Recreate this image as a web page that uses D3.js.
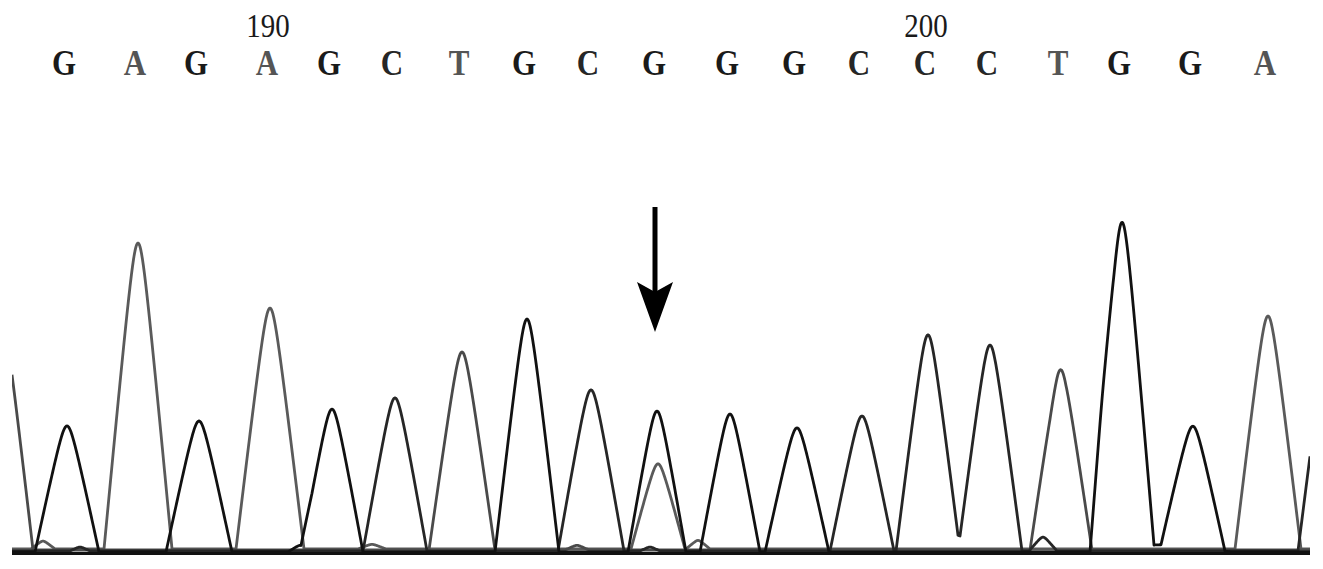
<!DOCTYPE html>
<html>
<head>
<meta charset="utf-8">
<script src="https://cdn.jsdelivr.net/npm/d3@7"></script>
<style>
  html, body { margin: 0; padding: 0; background: #fff; }
  svg { display: block; }
</style>
</head>
<body>
<svg id="chart" width="1323" height="569"></svg>
<script>
// ---------------- DATA ----------------
// base calls, in order
const bases = ["G","A","G","A","G","C","T","G","C","G","G","G","C","C","C","T","G","G","A"];
// number of the first base shown (base index 3 is labelled 190)
const firstBaseNumber = 187;
// position labels shown above the sequence
const tickLabels = [190, 200];
// scan position of each called peak
const peakPos = [55,126,187,258,320,383,450,515,579,645,718,785,850,916,978,1049,1110,1181,1256];
// signal height of each called peak
const peakHeight = [382,927,397,730,433,464,600,706,488,427,418,376,409,655,624,539,988,367,706];
// half width of each called peak (scan units)
const peakHalfWidth = [32,34,33,34,31,32,33,32,33,29,30,32,32,32,32,31,32,32,33];
// extra (uncalled) peaks: channel, scan position, height, half width
const extraChannel = ["T","A","C"];
const extraPos     = [-10, 646, 1317];
const extraHeight  = [690, 258, 640];
const extraHalf    = [31, 27, 31];
// small baseline bumps: channel, scan position, height, half width
const noiseChannel = ["A","C","G","T","C","A","C","T","G","G","A"];
const noisePos     = [31, 68, 288, 565, 638, 686, 1031, 1046, 1090, 1150, 360];
const noiseHeight  = [24, 12, 20, 14, 12, 26, 42, 10, 30, 22, 14];
const noiseHalf    = [12, 10, 12, 12, 10, 12, 14, 8, 12, 70, 14];
// which peak the arrow points at
const arrowIndex = 9;

// ---------------- SETUP ----------------
const traceColor = {A: "#5a5a5a", C: "#262626", G: "#111111", T: "#4a4a4a"};
const letterColor = {A: "#555555", C: "#262626", G: "#1a1a1a", T: "#555555"};
const baseOffset = {A: -2, C: 0, G: 1, T: -1};

const svg = d3.select("#chart");
const scanMax = 1298;
const x = d3.scaleLinear().domain([0, scanMax]).range([12, 1310]);
const y = d3.scaleLinear().domain([0, 1000]).range([551, 221]);

// peak shape: straight sides with a rounded apex
const a = 0.17;
const g1 = Math.sqrt(1 + a * a) - a;
function shape(t) {
  t = Math.abs(t);
  if (t >= 1) return 0;
  return 1 - (Math.sqrt(t * t + a * a) - a) / g1;
}

// gather every peak by channel
const peaks = [];
bases.forEach((b, i) => peaks.push({ch: b, pos: peakPos[i], h: peakHeight[i], w: peakHalfWidth[i]}));
extraChannel.forEach((c, i) => peaks.push({ch: c, pos: extraPos[i], h: extraHeight[i], w: extraHalf[i]}));
noiseChannel.forEach((c, i) => peaks.push({ch: c, pos: noisePos[i], h: noiseHeight[i], w: noiseHalf[i]}));

const scans = d3.range(0, scanMax + 0.5, 0.5);
const line = d3.line()
  .x(d => x(d[0]))
  .y(d => y(d[1]));

// clip to plot area
svg.append("defs").append("clipPath").attr("id", "plot")
  .append("rect").attr("x", 12).attr("y", 150).attr("width", 1298).attr("height", 410);

const traces = svg.append("g").attr("clip-path", "url(#plot)");

// draw order: lighter channels first, dark on top
["A","T","C","G"].forEach(ch => {
  const ps = peaks.filter(p => p.ch === ch);
  const pts = scans.map(s => {
    let v = 0;
    ps.forEach(p => { v += p.h * shape((s - p.pos) / p.w); });
    return [s, v];
  });
  traces.append("path")
    .attr("d", line(pts))
    .attr("fill", "none")
    .attr("stroke", traceColor[ch])
    .attr("stroke-width", 2.8)
    .attr("stroke-linejoin", "round")
    .attr("transform", `translate(0,${baseOffset[ch]})`);
});

// baseline
svg.append("line")
  .attr("x1", x(0)).attr("x2", x(scanMax))
  .attr("y1", y(0) + 2.5).attr("y2", y(0) + 2.5)
  .attr("stroke", "#111").attr("stroke-width", 3);

// base letters
svg.append("g").selectAll("text")
  .data(bases)
  .join("text")
  .attr("transform", (d, i) => `translate(${x(peakPos[i]) - 3},75) scale(1,1.15)`)
  .attr("text-anchor", "middle")
  .attr("font-family", "'Liberation Serif', 'Times New Roman', serif")
  .attr("font-weight", "bold")
  .attr("font-size", 31)
  .attr("fill", d => letterColor[d])
  .text(d => d);

// position numbers
svg.append("g").selectAll("text")
  .data(tickLabels)
  .join("text")
  .attr("transform", d => `translate(${x(peakPos[d - firstBaseNumber]) - 2},37) scale(1,1.15)`)
  .attr("text-anchor", "middle")
  .attr("font-family", "'Liberation Serif', 'Times New Roman', serif")
  .attr("font-size", 29)
  .attr("fill", "#1a1a1a")
  .text(d => d);

// arrow
const ax = x(peakPos[arrowIndex]) - 2;
svg.append("line")
  .attr("x1", ax).attr("x2", ax).attr("y1", 207).attr("y2", 295)
  .attr("stroke", "#000").attr("stroke-width", 5);
svg.append("path")
  .attr("d", `M${ax - 18},282 L${ax},332 L${ax + 18},282 L${ax},292 Z`)
  .attr("fill", "#000");
</script>
</body>
</html>
